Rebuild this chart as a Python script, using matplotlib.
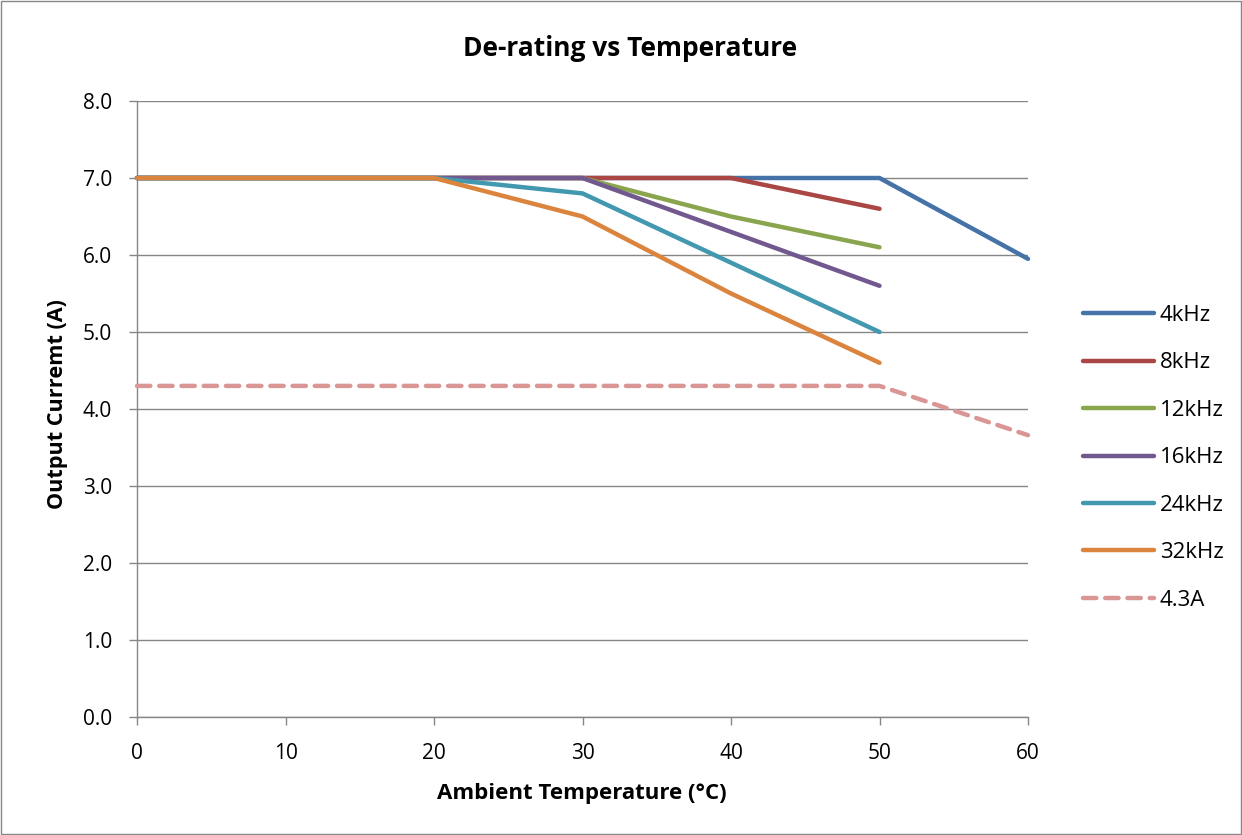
import matplotlib
matplotlib.use("Agg")
import matplotlib.pyplot as plt
from matplotlib.lines import Line2D

plt.rcParams['font.family'] = ['Open Sans', 'DejaVu Sans']

temps = [0, 10, 20, 30, 40, 50, 60]
series_names = ["4kHz", "8kHz", "12kHz", "16kHz", "24kHz", "32kHz", "4.3A"]
s4k = [7.0, 7.0, 7.0, 7.0, 7.0, 7.0, 5.95]
s8k = [7.0, 7.0, 7.0, 7.0, 7.0, 6.6, None]
s12k = [7.0, 7.0, 7.0, 7.0, 6.5, 6.1, None]
s16k = [7.0, 7.0, 7.0, 7.0, 6.3, 5.6, None]
s24k = [7.0, 7.0, 7.0, 6.8, 5.9, 5.0, None]
s32k = [7.0, 7.0, 7.0, 6.5, 5.5, 4.6, None]
s43a = [4.3, 4.3, 4.3, 4.3, 4.3, 4.3, 3.66]
colors = ["#4572A7", "#AA4643", "#89A54E", "#71588F", "#4198AF", "#DB843D", "#D99694"]
yticks = [0, 1, 2, 3, 4, 5, 6, 7, 8]
xticks = [0, 10, 20, 30, 40, 50, 60]

W, H = 1242, 835
fig = plt.figure(figsize=(W / 100, H / 100), dpi=100)
ax = fig.add_axes([137 / W, (H - 717) / H, (1028 - 137) / W, (717 - 101) / H])

all_series = [s4k, s8k, s12k, s16k, s24k, s32k, s43a]
handles = []
for name, vals, c in zip(series_names, all_series, colors):
    xs = [t for t, v in zip(temps, vals) if v is not None]
    ys = [v for v in vals if v is not None]
    ls = (0, (3, 2)) if name == "4.3A" else '-'
    ax.plot(xs, ys, color=c, lw=3.2, ls=ls, solid_capstyle='round',
            dash_capstyle='round', solid_joinstyle='round', zorder=3, clip_on=False)
    handles.append(Line2D([], [], color=c, lw=3.2, ls=ls, solid_capstyle='round',
                          dash_capstyle='round', label=name))

ax.set_xlim(0, 60)
ax.set_ylim(0, 8)
ax.set_xticks(xticks)
ax.set_xticklabels([str(x) for x in xticks])
ax.set_yticks(yticks)
ax.set_yticklabels([f"{y:.1f}" for y in yticks])
ax.tick_params(axis='both', labelsize=15, color='#868686', length=6, width=1)
ax.tick_params(axis='y', pad=12)
ax.tick_params(axis='x', pad=13)
ax.yaxis.grid(True, color='#868686', lw=1)
ax.set_axisbelow(True)
for side in ['top', 'right']:
    ax.spines[side].set_visible(False)
for side in ['left', 'bottom']:
    ax.spines[side].set_color('#868686')
    ax.spines[side].set_linewidth(1)

fig.text(630 / W, 1 - 49 / H, "De-rating vs Temperature", fontsize=19, fontweight='bold',
         ha='center', va='center')
fig.text(582 / W, 1 - 793 / H, "Ambient Temperature (°C)", fontsize=16, fontweight='bold',
         ha='center', va='center')
fig.text(57 / W, 1 - 404 / H, "Output Curremt (A)", fontsize=15.6, fontweight='bold',
         ha='center', va='center', rotation=90)

leg = fig.legend(handles=handles, loc='upper left', bbox_to_anchor=(1083 / W, 1 - 305 / H),
                 frameon=False, fontsize=16, handlelength=3.2, handletextpad=0.25,
                 labelspacing=1.19, borderaxespad=0, borderpad=0)

fig.patches.append(plt.Rectangle((0.001, 0.001), 0.998, 0.998, transform=fig.transFigure,
                                 fill=False, edgecolor='#868686', lw=1))
fig.savefig("out.png", dpi=100)
